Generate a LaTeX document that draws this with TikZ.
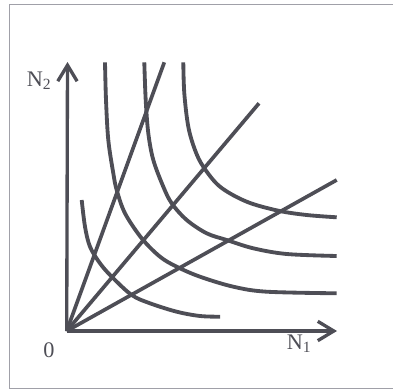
\documentclass[tikz,border=0pt]{standalone}
\usepackage{fontspec}
\setmainfont{Liberation Serif}
\usetikzlibrary{arrows.meta}
\definecolor{ink}{RGB}{78,78,86}
\definecolor{framec}{RGB}{160,160,168}
\tikzset{
  curve/.style={draw=ink, line width=1.15mm, line cap=butt},
  axis/.style={draw=ink, line width=1.0mm, -{Straight Barb[length=4.8mm,width=5.8mm]}},
  ray/.style={draw=ink, line width=1.1mm},
  lbl/.style={text=ink, font=\fontsize{19}{19}\selectfont, inner sep=0pt},
}
\begin{document}
\begin{tikzpicture}[x=0.3mm, y=-0.3mm]
\useasboundingbox (0,0) rectangle (393,390);
\draw[framec, line width=0.3mm] (393,5) -- (9,5) -- (9,388) -- (393,388);
\coordinate (O) at (66.7,331);
\coordinate (Ytip) at (67.5,62);
\coordinate (Xtip) at (337,331);
\coordinate (R1) at (164.3,62.3);
\coordinate (R2) at (259,103.3);
\coordinate (R3) at (336.7,180);
\draw[axis] (O) -- (Ytip);
\draw[axis] (O) -- (Xtip);
\draw[ray] (O) -- (R1);
\draw[ray] (O) -- (R2);
\draw[ray] (O) -- (R3);
\draw[curve] plot[smooth, tension=0.55] coordinates {(81.7,200) (85,226.7) (90,246.7) (100,263.3) (111.7,276.7) (131.7,295) (150,303.3) (176.7,311.7) (200,316) (220,316.7)};
\draw[curve] plot[smooth, tension=0.55] coordinates {(105,62.3) (106,100) (108.3,140) (113.3,173.3) (116.7,190) (125,213.3) (141.7,238.3) (160,256.7) (176.7,266.7) (200,276.7) (233.3,286.7) (266.7,291.7) (336.7,293.3)};
\draw[curve] plot[smooth, tension=0.55] coordinates {(144.3,62.3) (145.7,100) (148.3,133.3) (153.3,160) (163.3,186.7) (171.7,203.3) (186.7,220) (206.7,233.3) (226.7,240) (253.3,248.3) (286.7,254) (336.7,256)};
\draw[curve] plot[smooth, tension=0.55] coordinates {(183.3,62.3) (184.3,93.3) (188.3,126.7) (195,150) (203.3,166.7) (220,186.7) (246.7,201.7) (278.3,210.7) (306.7,215) (336.7,217.3)};
\node[lbl] (n2) at (39,81) {N\textsubscript{2}};
\node[lbl] (n1) at (299,344) {N\textsubscript{1}};
\node[lbl] (zero) at (49,350) {0};
\end{tikzpicture}
\end{document}
